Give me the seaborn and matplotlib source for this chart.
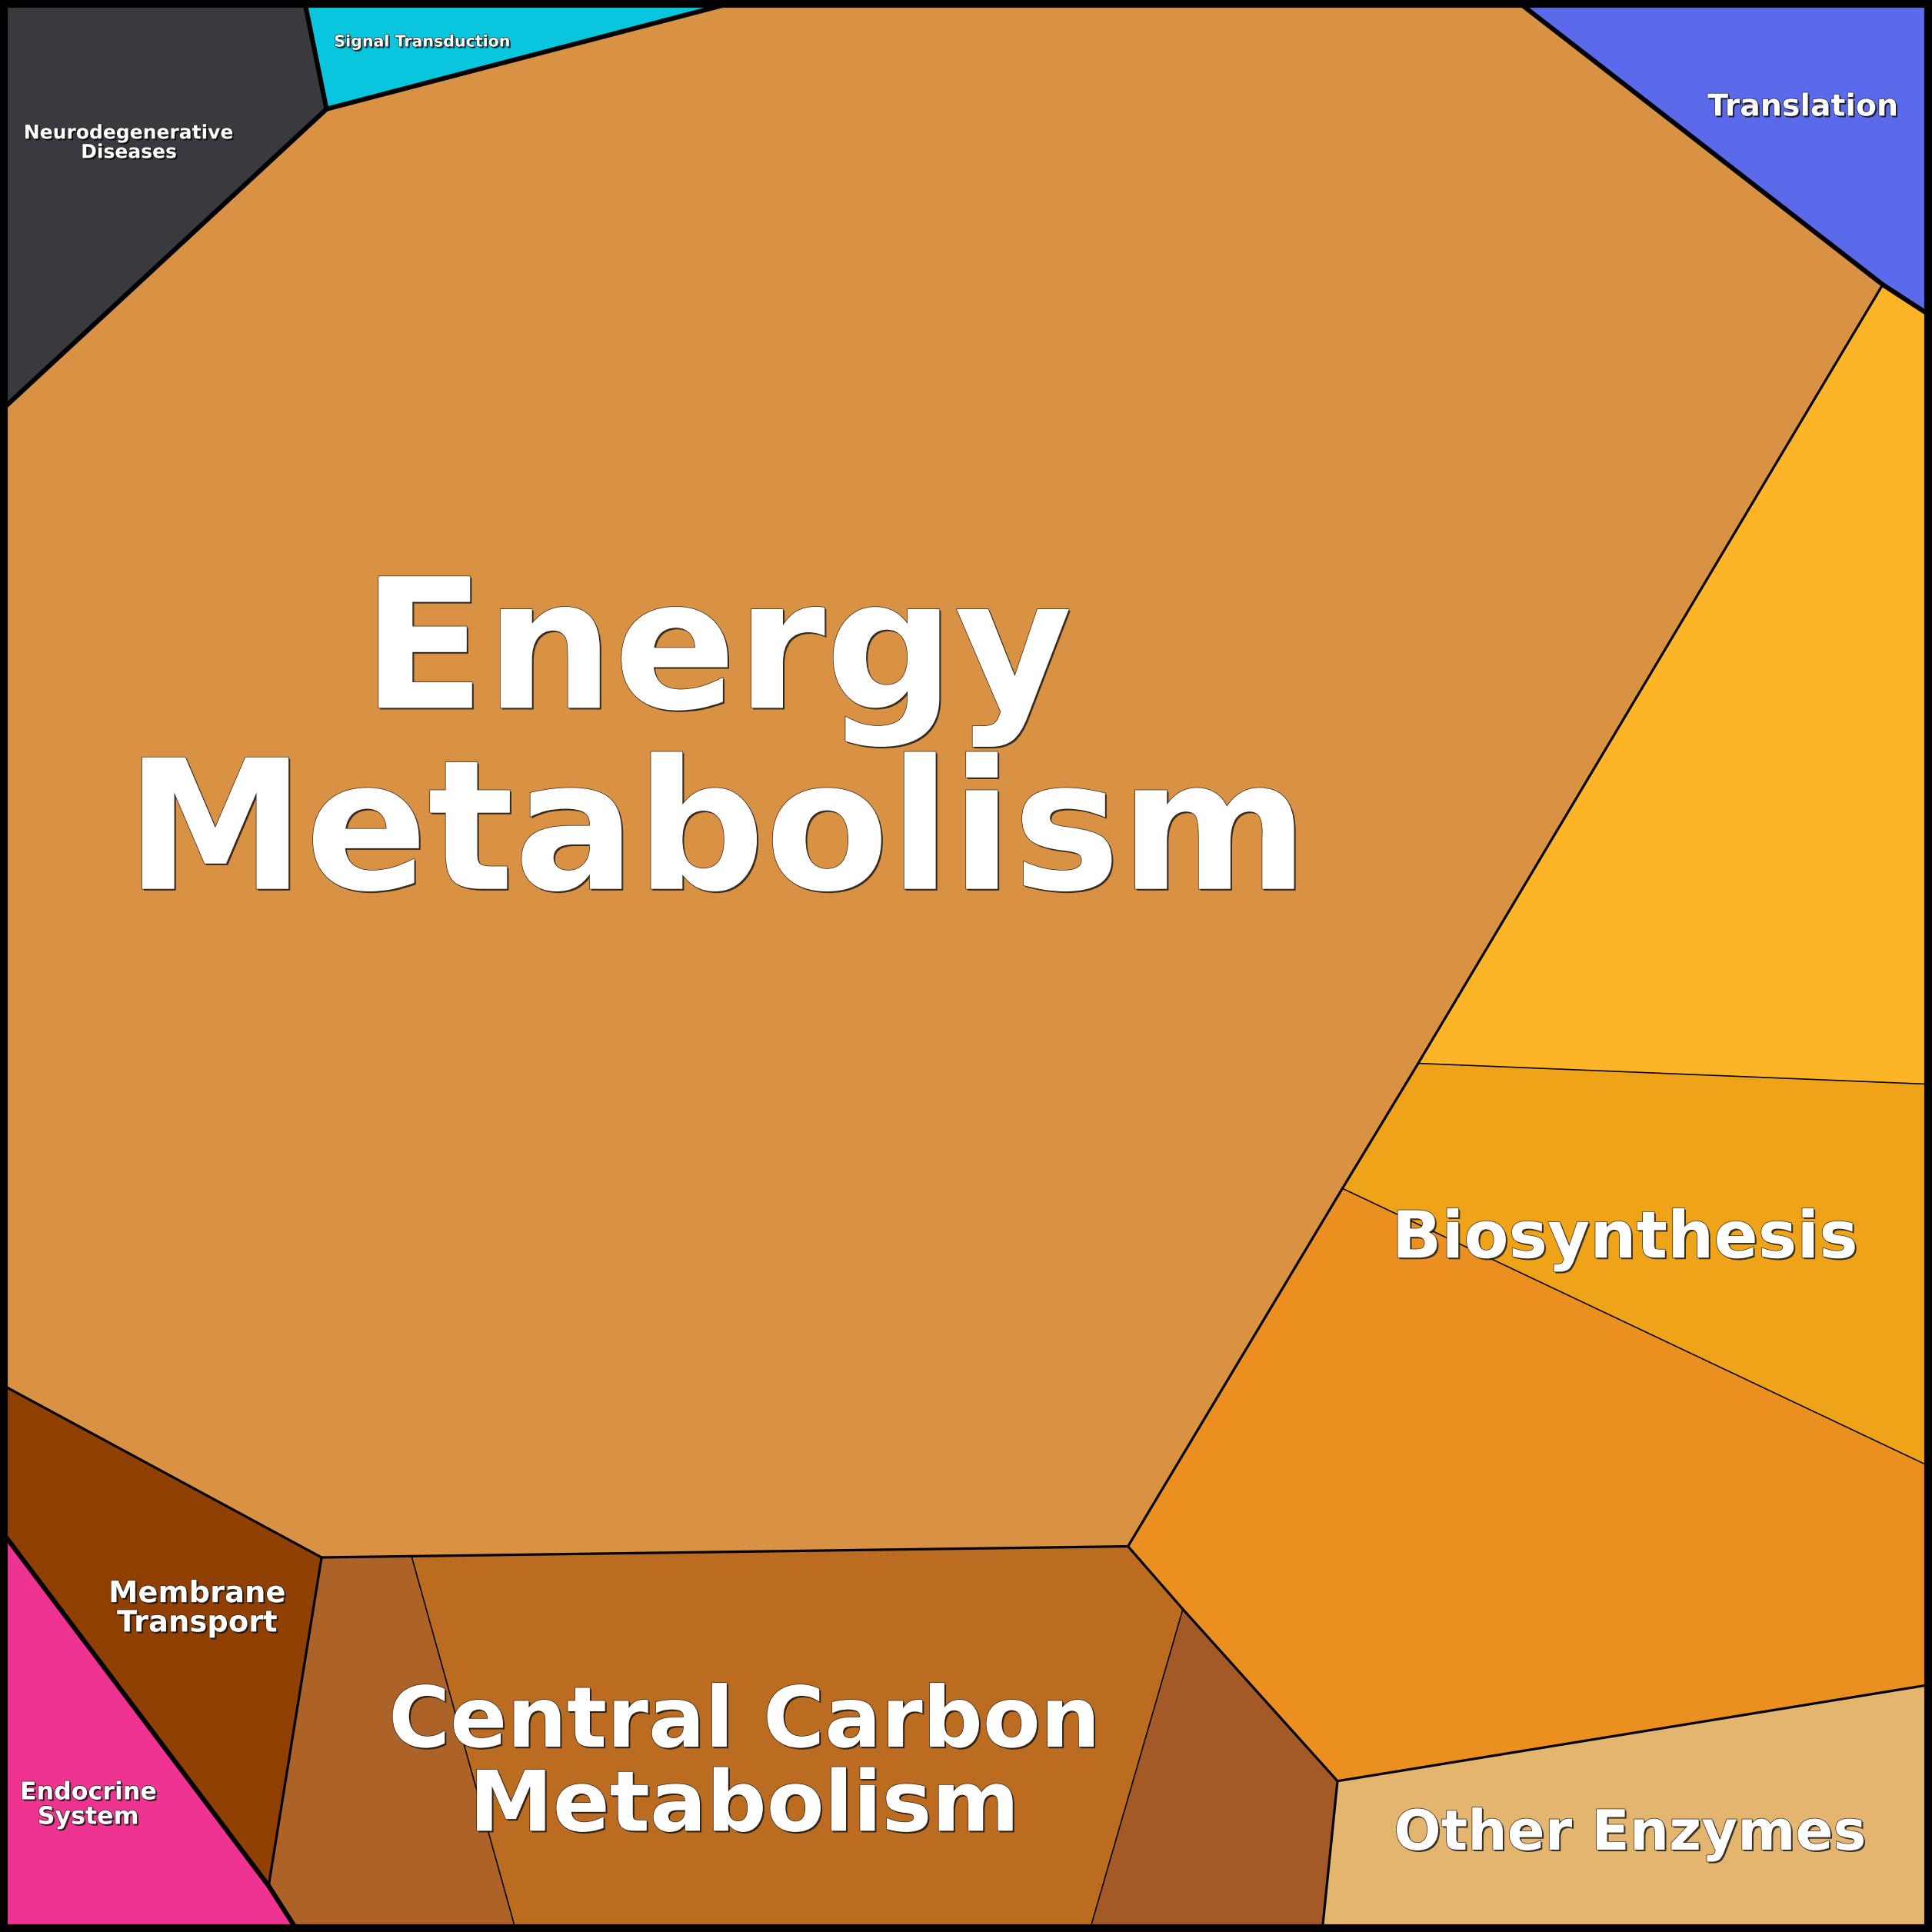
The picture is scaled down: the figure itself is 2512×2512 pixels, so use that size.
import seaborn as sns
import matplotlib.pyplot as plt
import matplotlib.patheffects as pe
from matplotlib.patches import Rectangle

# cells of the voronoi treemap: name, top group, sub group, colour
cells = ["Neurodegenerative", "Signal", "Translation", "Energy", "BioA", "BioB", "BioC",
         "Other", "CarbonR", "CarbonM", "CarbonL", "Membrane", "Endocrine"]
top_group = ["neuro", "signal", "translation", "metab", "metab", "metab", "metab",
             "metab", "metab", "metab", "metab", "metab", "endocrine"]
sub_group = ["neuro", "signal", "translation", "energy", "bio", "bio", "bio",
             "other", "carbon", "carbon", "carbon", "membrane", "endocrine"]
colors = ["#393a40", "#0ac5de", "#5b6aea", "#d99143", "#fdb426", "#efa318", "#eb9020",
          "#e4b56e", "#a35a27", "#bc6c20", "#ad6228", "#904003", "#ef3390"]

# cell outlines (0..1568, y down)
pts = {
    "A": (0, 0), "B": (247, 0), "C": (265, 88.5), "D": (603, 0), "E": (1230, 0),
    "F": (1528, 231), "G": (1568, 257), "H": (1151, 863), "I": (1568, 880),
    "J": (1089.5, 964.5), "K": (1568, 1191), "L": (915.5, 1255), "M": (960, 1306),
    "N": (1085.5, 1445.5), "O": (1568, 1367), "P": (1073, 1568), "Q": (884, 1568),
    "R": (419, 1568), "S": (334, 1263), "T": (261, 1264), "U": (0, 1123),
    "V": (218, 1530.5), "W": (0, 1241), "X": (242, 1568), "Y": (0, 334),
    "Z1": (1568, 0), "Z2": (1568, 1568), "Z3": (0, 1568),
}
outlines = [
    ["A", "B", "C", "Y"],
    ["B", "D", "C"],
    ["E", "Z1", "G", "F"],
    ["C", "D", "E", "F", "H", "J", "L", "S", "T", "U", "Y"],
    ["F", "G", "I", "H"],
    ["H", "I", "K", "J"],
    ["J", "K", "O", "N", "M", "L"],
    ["N", "O", "Z2", "P"],
    ["M", "N", "P", "Q"],
    ["S", "L", "M", "Q", "R"],
    ["T", "S", "R", "X", "V"],
    ["U", "T", "V", "W"],
    ["W", "V", "X", "Z3"],
]

labels = ["Neurodegenerative\nDiseases", "Signal Transduction", "Translation",
          "Energy\nMetabolism", "Biosynthesis", "Other Enzymes",
          "Central Carbon\nMetabolism", "Membrane\nTransport", "Endocrine\nSystem"]
label_x = [104.5, 342.5, 1463, 582, 1319, 1323, 604, 160, 71.5]
label_y = [116, 34, 87, 608, 1006, 1489, 1433, 1306, 1465]
label_size = [18, 14.8, 28.4, 169, 61, 52, 78.6, 27.7, 22.8]
label_spacing = [1.06, 1.0, 1.0, 1.03, 1.0, 1.0, 1.04, 1.08, 1.04]

sns.set_theme(style="white")
plt.rcParams["font.family"] = ["DejaVu Sans"]

fig = plt.figure(figsize=(25.12, 25.12), dpi=100)
ax = fig.add_axes([0, 0, 1, 1])
ax.set_xlim(0, 1568)
ax.set_ylim(1568, 0)
ax.axis("off")

for poly, col in zip(outlines, colors):
    xs = [pts[p][0] for p in poly]
    ys = [pts[p][1] for p in poly]
    ax.fill(xs, ys, color=col, lw=0)

# edge width depends on how deep the two neighbouring cells share a group
edges = {}
for i, poly in enumerate(outlines):
    for a, b in zip(poly, poly[1:] + poly[:1]):
        edges.setdefault(frozenset((a, b)), []).append(i)

for key, owners in edges.items():
    if len(owners) < 2:
        continue
    i, j = owners[0], owners[1]
    if top_group[i] != top_group[j]:
        lw = 4.4
    elif sub_group[i] != sub_group[j]:
        lw = 2.3
    else:
        lw = 1.15
    a, b = list(key)
    ax.plot([pts[a][0], pts[b][0]], [pts[a][1], pts[b][1]], color="black", lw=lw,
            solid_capstyle="round")

ax.add_patch(Rectangle((0, 0), 1568, 1568, fill=False, ec="black", lw=14.5, clip_on=False))

for txt, x, y, s, ls in zip(labels, label_x, label_y, label_size, label_spacing):
    ax.text(x, y, txt, ha="center", va="center", ma="center", fontsize=s,
            fontweight="bold", color="white", linespacing=ls,
            path_effects=[pe.SimplePatchShadow(offset=(1.5, -1.5), shadow_rgbFace="black", alpha=0.7),
                          pe.Stroke(linewidth=1.0, foreground="#222222"), pe.Normal()])

fig.savefig("out.png", dpi=100)
plt.close()
